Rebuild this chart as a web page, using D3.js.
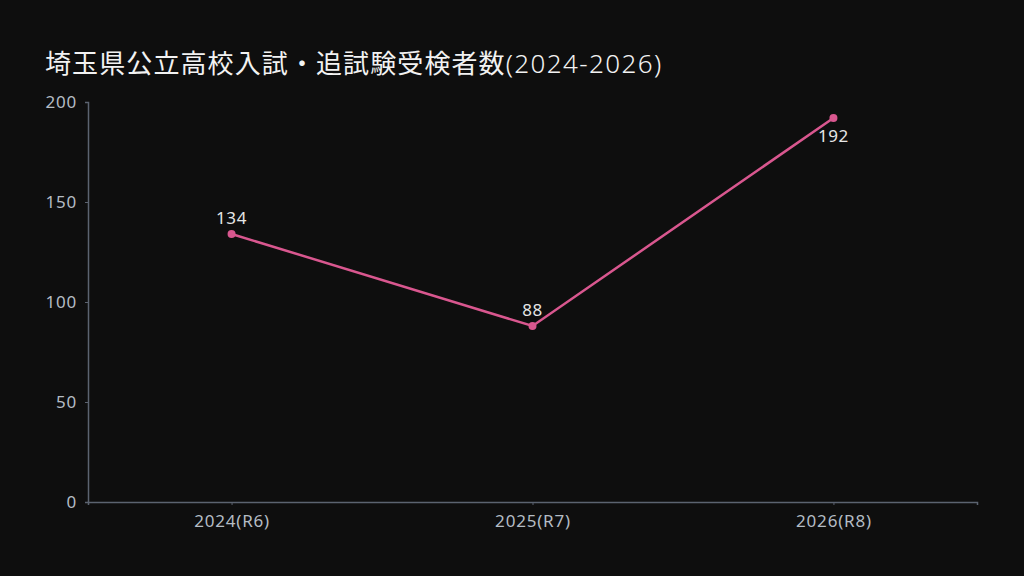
<!DOCTYPE html>
<html><head><meta charset="utf-8">
<script src="https://cdn.jsdelivr.net/npm/d3@7"></script>
<style>
html,body{margin:0;padding:0;background:#0e0e0e;}
svg{display:block;}
</style></head>
<body>
<script>
const categories = ["2024(R6)", "2025(R7)", "2026(R8)"];
const values = [134, 88, 192];
const yTicks = [0, 50, 100, 150, 200];
const titleJa = "埼玉県公立高校入試・追試験受検者数";
const titleYears = "(2024-2026)";

const W = 1024, H = 576;
const m = {left: 88, right: 47, top: 102, bottom: 74};
const latin = "'Noto Sans', sans-serif";

const svg = d3.select("body").append("svg").attr("width", W).attr("height", H);
svg.append("rect").attr("width", W).attr("height", H).attr("fill", "#0e0e0e");

const t = svg.append("text").attr("x", 45).attr("y", 73)
  .attr("fill", "#f2f2f2").attr("font-size", 26).attr("font-family", "'Noto Sans CJK JP', sans-serif");
t.append("tspan").text(titleJa).attr("letter-spacing", 1.1);
t.append("tspan").text(titleYears).attr("font-family", latin).attr("font-weight", 300).attr("letter-spacing", 1.4);

const x = d3.scalePoint().domain(categories).range([m.left, W - m.right]).padding(0.477);
const y = d3.scaleLinear().domain([0, 200]).range([H - m.bottom, m.top]);

const axisColor = "#5b6370", labelColor = "#b4bcc4";

const gx = svg.append("g").attr("transform", `translate(0,${H - m.bottom})`)
  .call(d3.axisBottom(x).tickSize(3).tickPadding(10));
const gy = svg.append("g").attr("transform", `translate(${m.left},0)`)
  .call(d3.axisLeft(y).tickValues(yTicks).tickSize(3).tickPadding(8));
[gx, gy].forEach(g => {
  g.select(".domain").attr("stroke", axisColor).attr("stroke-width", 1.5);
  g.selectAll(".tick line").attr("stroke", axisColor);
  g.selectAll(".tick text").attr("fill", labelColor).attr("font-size", 17)
    .attr("letter-spacing", 0.8).attr("font-family", latin);
});

const data = categories.map((c, i) => ({c, v: values[i]}));
const color = "#d9578f";
svg.append("path").datum(data)
  .attr("d", d3.line().x(d => x(d.c)).y(d => y(d.v)))
  .attr("fill", "none").attr("stroke", color).attr("stroke-width", 2.5);
svg.selectAll("circle.pt").data(data).join("circle")
  .attr("cx", d => x(d.c)).attr("cy", d => y(d.v)).attr("r", 4)
  .attr("fill", color);
svg.selectAll("text.lbl").data(data).join("text")
  .attr("x", d => x(d.c))
  .attr("y", (d, i) => i === data.length - 1 ? y(d.v) + 24 : y(d.v) - 10)
  .attr("text-anchor", "middle").text(d => d.v)
  .attr("fill", "#e6e6e6").attr("font-size", 17).attr("letter-spacing", 0.6).attr("font-family", latin);
</script>
</body></html>
